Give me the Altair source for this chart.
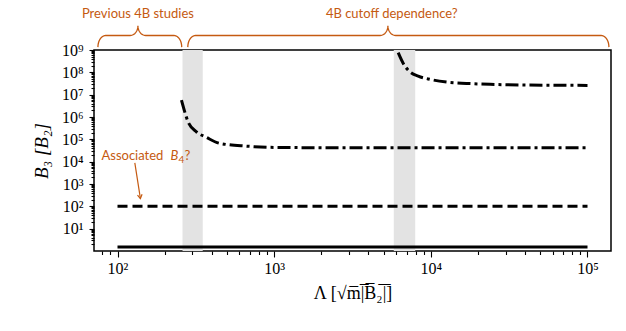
import math
import altair as alt
import pandas as pd

# ---------------- data ----------------
lam_solid = [100, 1e5]
b3_solid = [1.5, 1.5]

lam_dashed = [100, 1e5]
b3_dashed = [100, 100]

lam_c1 = [256, 269, 282, 319, 370, 450, 667, 1086, 3000, 1e5]
b3_c1 = [5.7e6, 1.66e6, 6.1e5, 2.17e5, 1.22e5, 6.6e4, 4.95e4, 4.3e4, 4.2e4, 4.2e4]

lam_c2 = [6190, 6670, 7350, 8310, 9870, 12600, 16900, 23900, 40000, 1e5]
b3_c2 = [7.6e8, 2.5e8, 1.06e8, 6.8e7, 4.85e7, 3.67e7, 3.2e7, 2.9e7, 2.7e7, 2.6e7]

band_lo = [260, 5800]
band_hi = [350, 7950]

x_major = [1e2, 1e3, 1e4, 1e5]
y_major = [10.0 ** k for k in range(1, 10)]

# annotation anchors (data units)
brace_x0 = [75, 281]
brace_x1 = [257, 1.37e5]
brace_tip = [135, 5320]
brace_text = ["Previous 4B studies", "4B cutoff dependence?"]
brace_text_x = [135, 5630]
note_parts = ["Associated", "B", "4", "?"]
note_x = 79
note_y = 1.8e4
arrow_from = (129, 8830)
arrow_to = (140, 224)

ORANGE = "#C55A11"
W, H = 517, 201

x_minor = [k * 10.0 ** n for n in range(1, 5) for k in range(2, 10)
           if 10 ** 1.85 <= k * 10.0 ** n <= 10 ** 5.15]
y_minor = [k * 10.0 ** n for n in range(0, 9) for k in range(2, 10)]

xscale = alt.Scale(type="log", domain=[10 ** 1.85, 10 ** 5.15], nice=False)
yscale = alt.Scale(type="log", domain=[1, 1e9], nice=False)

sup = "'10' + substring('⁰¹²³⁴⁵⁶⁷⁸⁹', round(log(datum.value)/LN10), round(log(datum.value)/LN10)+1)"

# ---------------- tables ----------------
rows = []
for name, xs, ys in [("solid", lam_solid, b3_solid), ("dashed", lam_dashed, b3_dashed),
                     ("c1", lam_c1, b3_c1), ("c2", lam_c2, b3_c2)]:
    for i, (a, b) in enumerate(zip(xs, ys)):
        rows.append({"lam": a, "b3": b, "series": name, "i": i})
lines_df = pd.DataFrame(rows)

bands_df = pd.DataFrame({"lo": band_lo, "hi": band_hi})

brows = []
for j in range(2):
    u0, u1, ut = math.log10(brace_x0[j]), math.log10(brace_x1[j]), math.log10(brace_tip[j])
    b, m, t = 9.13, 9.65, 10.08
    rx = 0.05
    pts = []
    n = 10
    for k in range(n + 1):
        a = math.pi - k * (math.pi / 2) / n
        pts.append((u0 + rx + rx * math.cos(a), b + (m - b) * math.sin(a)))
    for k in range(n + 1):
        a = -math.pi / 2 + k * (math.pi / 2) / n
        pts.append((ut - rx + rx * math.cos(a), t + (t - m) * math.sin(a)))
    for k in range(n + 1):
        a = math.pi - k * (math.pi / 2) / n
        pts.append((ut + rx + rx * math.cos(a), t - (t - m) * math.sin(a)))
    for k in range(n + 1):
        a = math.pi / 2 - k * (math.pi / 2) / n
        pts.append((u1 - rx + rx * math.cos(a), b + (m - b) * math.sin(a)))
    for i, (u, v) in enumerate(pts):
        brows.append({"lam": 10 ** u, "b3": 10 ** v, "brace": j, "i": i})
brace_df = pd.DataFrame(brows)

text_df = pd.DataFrame({"lam": brace_text_x, "b3": [10 ** 10.62] * 2, "t": brace_text})
arrow_df = pd.DataFrame({"lam": [arrow_from[0], arrow_to[0]], "b3": [arrow_from[1], arrow_to[1]], "i": [0, 1]})

# ---------------- layers ----------------
x_major_axis = alt.Axis(values=x_major, labelExpr=sup, tickSize=6, labelPadding=3, orient="bottom",
                        title="Λ   [√m̅|̅B̅₂̅|̅]", titleFont="Liberation Serif", titleFontSize=18,
                        titleFontWeight="normal", titlePadding=8, titleColor="black")
y_major_axis = alt.Axis(values=y_major, labelExpr=sup, tickSize=5, labelPadding=6, orient="left",
                        title="B₃   [B₂]", titleFont="Liberation Serif", titleFontSize=19,
                        titleFontStyle="italic", titleFontWeight="normal", titlePadding=10,
                        titleColor="black")

XN = lambda f: alt.X(f, scale=xscale, axis=None)
YN = lambda f: alt.Y(f, scale=yscale, axis=None)

bands = alt.Chart(bands_df).mark_rect(color="#e3e3e3").encode(
    x=XN("lo:Q"), x2="hi:Q", y=alt.value(0), y2=alt.value(H),
)

lines = alt.Chart(lines_df).mark_line(color="black", strokeWidth=3, interpolate="monotone",
                                      strokeCap="butt").encode(
    x=alt.X("lam:Q", scale=xscale, axis=x_major_axis),
    y=alt.Y("b3:Q", scale=yscale, axis=y_major_axis),
    detail="series:N",
    order="i:Q",
    strokeDash=alt.StrokeDash("series:N", legend=None,
                              scale=alt.Scale(domain=["solid", "dashed", "c1", "c2"],
                                              range=[[1, 0], [10, 5], [13, 4, 3, 4], [13, 4, 3, 4]])),
)

minor = alt.Chart(lines_df).mark_point(opacity=0).encode(
    x=alt.X("lam:Q", scale=xscale, axis=alt.Axis(values=x_minor, labels=False, tickSize=3.5,
                                                  title=None, orient="bottom")),
    y=alt.Y("b3:Q", scale=yscale, axis=alt.Axis(values=y_minor, labels=False, tickSize=3,
                                                 title=None, orient="left")),
)

braces = alt.Chart(brace_df).mark_line(color=ORANGE, strokeWidth=1.3, clip=False).encode(
    x=XN("lam:Q"), y=YN("b3:Q"), detail="brace:N", order="i:Q",
)

texts = alt.Chart(text_df).mark_text(color=ORANGE, font="Lato", fontSize=13, align="center",
                                     baseline="middle").encode(
    x=XN("lam:Q"), y=YN("b3:Q"), text="t:N")


def note(part, dx, dy=0, size=13, style="normal"):
    return alt.Chart(pd.DataFrame({"lam": [note_x], "b3": [note_y], "t": [part]})).mark_text(
        color=ORANGE, font="Lato", fontSize=size, fontStyle=style, align="left",
        baseline="middle", dx=dx, dy=dy).encode(x=XN("lam:Q"), y=YN("b3:Q"), text="t:N")


note1 = note(note_parts[0], 0)
note2 = note(note_parts[1], 69, style="italic")
note3 = note(note_parts[2], 77, dy=4, size=10)
note4 = note(note_parts[3], 83)

arrow = alt.Chart(arrow_df).mark_line(color=ORANGE, strokeWidth=1.2).encode(
    x=XN("lam:Q"), y=YN("b3:Q"), order="i:Q")
head = alt.Chart(arrow_df.iloc[[1]]).mark_point(
    shape="M-0.6,-1 L0,0 L0.6,-1", filled=False, color=ORANGE, size=60, strokeWidth=1.2,
    angle=351, opacity=1).encode(x=XN("lam:Q"), y=YN("b3:Q"))

chart = alt.layer(bands, minor, lines, braces, texts, note1, note2, note3, note4, arrow, head).resolve_axis(
    x="independent", y="independent"
).properties(
    width=W, height=H, autosize="none",
    padding={"left": 94, "top": 50, "right": 15, "bottom": 80},
    background="white",
).configure_view(stroke="black", strokeWidth=1.5).configure_axis(
    labelFont="Liberation Serif", labelFontSize=16, labelColor="black", domain=False,
    tickColor="black", tickWidth=1.1, grid=False,
)

chart.save("out.html", embed_options={"renderer": "svg", "actions": False})
